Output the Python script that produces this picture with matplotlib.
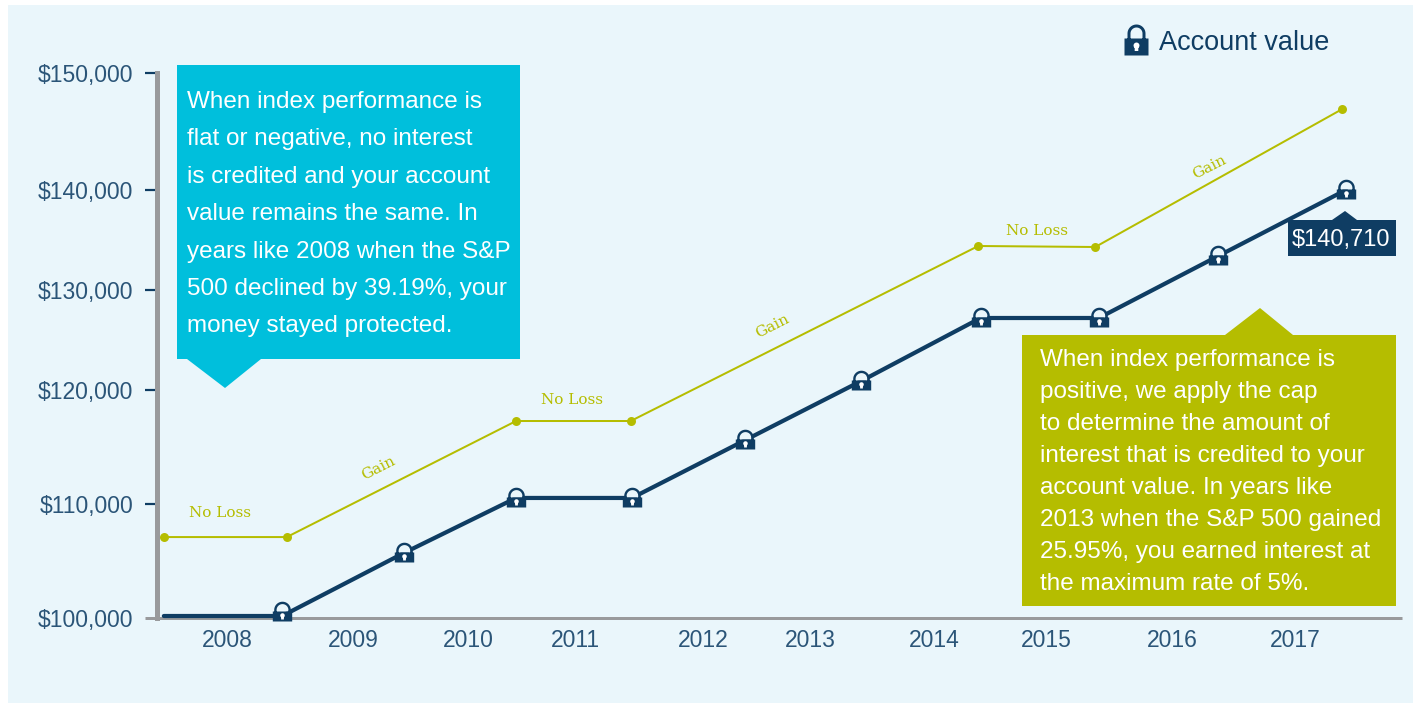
import numpy as np
import matplotlib
matplotlib.use('Agg')
import matplotlib.pyplot as plt
from matplotlib.path import Path
from matplotlib.patches import Polygon, Rectangle

plt.rcParams['font.family'] = ['Liberation Sans', 'DejaVu Sans']

# values (the y axis of the original is not evenly spaced)
y_ticks = [100000, 110000, 120000, 130000, 140000, 150000]
y_tick_labels = ['$100,000', '$110,000', '$120,000', '$130,000', '$140,000', '$150,000']
year_labels = ['2008', '2009', '2010', '2011', '2012', '2013', '2014', '2015', '2016', '2017']
year_label_x = [2008.54, 2009.60, 2010.58, 2011.48, 2012.56, 2013.47, 2014.52, 2015.47, 2016.53, 2017.57]

account_x = [2008.00, 2009.00, 2010.03, 2010.98, 2011.96, 2012.92, 2013.90, 2014.91, 2015.91, 2016.92, 2018.00]
account_y = [100175, 100175, 105700, 110530, 110530, 115610, 120900, 127200, 127200, 133400, 140000]
lock_y = [100500, 105700, 110530, 110530, 115610, 120900, 127200, 127200, 133400, 140000]

index_x = [2008.00, 2009.04, 2010.98, 2011.95, 2014.89, 2015.88, 2017.97]
index_y = [107100, 107100, 117280, 117280, 134400, 134300, 146920]

teal_lines = ['When index performance is', 'flat or negative, no interest',
              'is credited and your account', 'value remains the same. In',
              'years like 2008 when the S&P', '500 declined by 39.19%, your',
              'money stayed protected.']
olive_lines = ['When index performance is', 'positive, we apply the cap',
               'to determine the amount of', 'interest that is credited to your',
               'account value. In years like', '2013 when the S&P 500 gained',
               '25.95%, you earned interest at', 'the maximum rate of 5%.']

W, H = 1418, 703
NAVY = '#0F3D63'
TICK_TEXT = '#2B5578'
OLIVE = '#B5BD00'
TEAL = '#00BFDC'
GREY = '#999A9C'
PANEL = '#EAF6FB'
PX = 72 / 100  # points per pixel


def make_lock(half_w, top, bottom, r, thick, cy, hole_r, hole_y, stem_y):
    # marker shapes in pixels, all padded to one extent so they scale alike
    ext = max(abs(bottom), cy + r, half_w) + 1
    pad_v = [(-ext, -ext), (ext, ext)]
    pad_c = [Path.MOVETO, Path.MOVETO]
    t = np.linspace(0, np.pi, 28)
    outer = np.c_[r * np.cos(t), cy + r * np.sin(t)]
    inner = np.c_[(r - thick) * np.cos(t[::-1]), cy + (r - thick) * np.sin(t[::-1])]
    shackle = np.vstack([[(r, top - 1)], outer, [(-r, top - 1), (-r + thick, top - 1)], inner,
                         [(r - thick, top - 1), (r, top - 1)]])
    body = [(-half_w, bottom), (half_w, bottom), (half_w, top), (-half_w, top), (-half_w, bottom)]
    box_c = [Path.MOVETO, Path.LINETO, Path.LINETO, Path.LINETO, Path.CLOSEPOLY]
    v = list(map(tuple, shackle)) + body + pad_v
    c = [Path.MOVETO] + [Path.LINETO] * (len(shackle) - 2) + [Path.CLOSEPOLY] + box_c + pad_c
    lock = Path(v, c)
    # the opening of the shackle hides the line that passes behind it
    opening = np.vstack([inner, [(r - thick, top), (-r + thick, top)], inner[:1]])
    v = list(map(tuple, opening)) + pad_v
    c = [Path.MOVETO] + [Path.LINETO] * (len(opening) - 2) + [Path.CLOSEPOLY] + pad_c
    gap = Path(v, c)
    a = np.linspace(0, 2 * np.pi, 16)
    head = np.c_[hole_r * np.cos(a), hole_y + hole_r * np.sin(a)]
    w = hole_r * 0.6
    # same winding as the head, so the overlap stays filled
    stem = [(-w, hole_y), (-w, stem_y), (w, stem_y), (w, hole_y), (-w, hole_y)]
    v = list(map(tuple, head)) + stem + pad_v
    c = [Path.MOVETO] + [Path.LINETO] * (len(head) - 2) + [Path.CLOSEPOLY] + box_c + pad_c
    return lock, gap, Path(v, c), 2 * ext * PX


lock, gap, keyhole, lock_size = make_lock(9.7, 1, -9, 8.3, 2.4, 2.5, 2.3, -3, -7)
big_lock, big_gap, big_keyhole, big_size = make_lock(12, 4, -13, 9, 3, 9, 3, -3, -8.5)

fig = plt.figure(figsize=(W / 100, H / 100), dpi=100, facecolor='white')

# background layer in pixel coordinates: panel, callouts, notes, legend
bg = fig.add_axes([0, 0, 1, 1], zorder=0)
bg.set_xlim(0, W)
bg.set_ylim(H, 0)
bg.axis('off')
bg.add_patch(Rectangle((8, 5), 1405, 698, fc=PANEL, ec='none'))

bg.add_patch(Polygon([(177, 65), (520, 65), (520, 359), (261, 359), (225, 388), (187, 359), (177, 359)],
                     fc=TEAL, ec='none'))
for i, s in enumerate(teal_lines):
    bg.text(187, 102 + i * 37.4, s, color='white', fontsize=17.5, va='center', ha='left')

bg.add_patch(Polygon([(1022, 335), (1225, 335), (1260, 308), (1293, 335), (1396, 335), (1396, 606), (1022, 606)],
                     fc=OLIVE, ec='none'))
for i, s in enumerate(olive_lines):
    bg.text(1040, 360 + i * 32, s, color='white', fontsize=17.5, va='center', ha='left')

bg.add_patch(Polygon([(1288, 220), (1332, 220), (1345, 211), (1357, 220), (1396, 220), (1396, 256), (1288, 256)],
                     fc=NAVY, ec='none'))
bg.text(1341, 240, '$140,710', color='white', fontsize=17, va='center', ha='center')

bg.plot([1136], [42], marker=big_lock, ms=big_size, mfc=NAVY, mec='none', ls='none')
bg.plot([1136], [42], marker=big_keyhole, ms=big_size, mfc='white', mec='none', ls='none')
bg.text(1159, 43, 'Account value', color=NAVY, fontsize=19.5, va='center', ha='left')

notes = [('No Loss', 220, 513, 0), ('Gain', 378, 468, 27), ('No Loss', 572, 400, 0),
         ('Gain', 772, 326, 27), ('No Loss', 1037, 231, 0), ('Gain', 1209, 167, 27)]
for s, nx, ny, rot in notes:
    bg.text(nx, ny, s, color=OLIVE, fontsize=11, family='DejaVu Serif', rotation=rot,
            va='center', ha='center', rotation_mode='anchor')

# chart layer
ax = fig.add_axes([157 / W, (H - 618) / H, (1402 - 157) / W, (618 - 73) / H], zorder=1)
ax.patch.set_alpha(0)

tick_height = [0, 114, 228, 328, 428, 545]  # spacing of the ticks in the original


def y_fwd(v):
    return np.interp(v, y_ticks, tick_height)


def y_inv(h):
    return np.interp(h, tick_height, y_ticks)


ax.set_yscale('function', functions=(y_fwd, y_inv))
ax.set_ylim(100000, 150000)
ax.set_xlim(2007.942, 2018.475)

ax.plot(index_x, index_y, color=OLIVE, lw=2 * PX, marker='o', ms=9 * PX, mec='none', clip_on=False, zorder=3)
ax.plot(account_x, account_y, color=NAVY, lw=4.2 * PX, solid_capstyle='round', clip_on=False, zorder=4)
ax.plot(account_x[1:], lock_y, ls='none', marker=gap, ms=lock_size, mfc=PANEL, mec='none', clip_on=False, zorder=5)
ax.plot(account_x[1:], lock_y, ls='none', marker=lock, ms=lock_size, mfc=NAVY, mec='none', clip_on=False, zorder=6)
ax.plot(account_x[1:], lock_y, ls='none', marker=keyhole, ms=lock_size, mfc='white', mec='none', clip_on=False, zorder=7)

ax.set_yticks(y_ticks)
ax.set_yticklabels(y_tick_labels)
ax.yaxis.set_minor_locator(plt.NullLocator())
ax.set_xticks(year_label_x)
ax.set_xticklabels(year_labels)
ax.tick_params(axis='y', length=12 * PX, width=2.2 * PX, color=NAVY, labelcolor=TICK_TEXT, labelsize=16.5, pad=8.5)
ax.tick_params(axis='x', length=0, labelcolor=TICK_TEXT, labelsize=16.5, pad=8)
first_tick = ax.yaxis.get_major_ticks()[0].tick1line
first_tick.set_markeredgecolor(GREY)
first_tick.set_markeredgewidth(3 * PX)

for side in ['top', 'right']:
    ax.spines[side].set_visible(False)
ax.spines['left'].set_color(GREY)
ax.spines['left'].set_linewidth(5 * PX)
ax.spines['bottom'].set_color(GREY)
ax.spines['bottom'].set_linewidth(3 * PX)
ax.spines['bottom'].set_capstyle('butt')

fig.savefig('out.png', dpi=100)
